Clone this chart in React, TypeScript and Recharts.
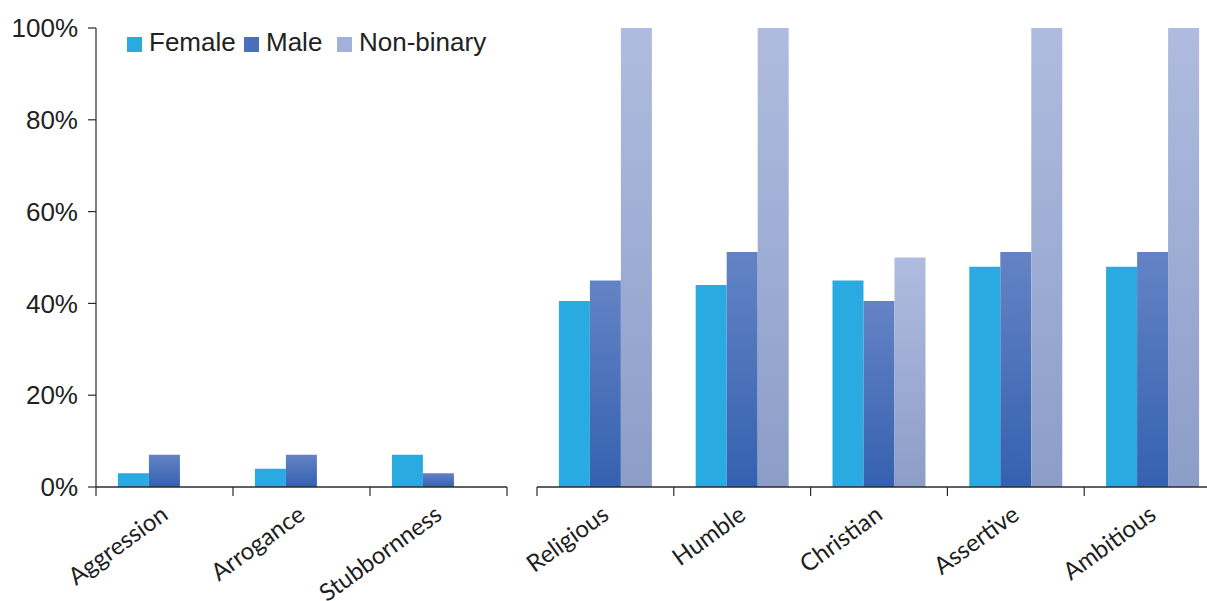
import React from 'react';
import { Bar, BarChart, XAxis, YAxis } from 'recharts';

const leftCategories = ['Aggression', 'Arrogance', 'Stubbornness'];
const leftFemale = [3, 4, 7];
const leftMale = [7, 7, 3];
const leftNonBinary = [0, 0, 0];

const rightCategories = ['Religious', 'Humble', 'Christian', 'Assertive', 'Ambitious'];
const rightFemale = [40.5, 44, 45, 48, 48];
const rightMale = [45, 51.2, 40.5, 51.2, 51.2];
const rightNonBinary = [100, 100, 50, 100, 100];

const yTicks = [0, 20, 40, 60, 80, 100];

const seriesNames = ['Female', 'Male', 'Non-binary'];

const leftData = leftCategories.map((name, i) => ({
  name,
  female: leftFemale[i],
  male: leftMale[i],
  nonBinary: leftNonBinary[i],
}));

const rightData = rightCategories.map((name, i) => ({
  name,
  female: rightFemale[i],
  male: rightMale[i],
  nonBinary: rightNonBinary[i],
}));

const AXIS = '#2b2b2b';
const LABEL_FONT = 'Lato, "Open Sans", sans-serif';
const NUM_FONT = '"Liberation Sans", Arial, sans-serif';

// category ticks sit on the band edges, labels are slanted under the band centre
function makeTick(band: number, count: number) {
  return function CategoryTick(props: any) {
    const { x, y, payload } = props;
    const ax = x + 5;
    const ay = y + 23;
    return (
      <g>
        <line x1={x - band / 2} x2={x - band / 2} y1={y - 8} y2={y + 1} stroke={AXIS} strokeWidth={1.2} />
        {payload.index === count - 1 && (
          <line x1={x + band / 2} x2={x + band / 2} y1={y - 8} y2={y + 1} stroke={AXIS} strokeWidth={1.2} />
        )}
        <text
          x={ax}
          y={ay}
          textAnchor="end"
          transform={`rotate(-36, ${ax}, ${ay})`}
          fontSize={24}
          fontFamily={LABEL_FONT}
          fill="#1e1e1e"
        >
          {payload.value}
        </text>
      </g>
    );
  };
}

function Gradients() {
  return (
    <defs>
      <linearGradient id="maleGrad" x1="0" y1="0" x2="0" y2="1">
        <stop offset="0%" stopColor="#6483c5" />
        <stop offset="100%" stopColor="#3461af" />
      </linearGradient>
      <linearGradient id="nbGrad" x1="0" y1="0" x2="0" y2="1">
        <stop offset="0%" stopColor="#afbcdf" />
        <stop offset="100%" stopColor="#8c9dc8" />
      </linearGradient>
    </defs>
  );
}

const legendColors = ['#29abe2', '#4a6fbb', '#a3b1d9'];
const legendLeft = [127, 244, 337];

function ChartLegend() {
  return (
    <div style={{ position: 'absolute', left: 0, top: 0, fontFamily: NUM_FONT, fontSize: 26, color: '#222', lineHeight: '30px' }}>
      {seriesNames.map((n, i) => (
        <div key={n} style={{ position: 'absolute', left: legendLeft[i], top: 27, whiteSpace: 'nowrap' }}>
          <span style={{ position: 'absolute', left: 0, top: 10, width: 15, height: 15, background: legendColors[i] }} />
          <span style={{ marginLeft: 22 }}>{n}</span>
        </div>
      ))}
    </div>
  );
}

export default function App() {
  const leftBand = (507 - 96) / leftCategories.length;
  const rightBand = (1221 - 537) / rightCategories.length;
  return (
    <div style={{ position: 'fixed', left: 0, top: 0, width: 1207, height: 601, overflow: 'hidden', background: '#fff' }}>
      <div style={{ position: 'absolute', left: 0, top: 0 }}>
        <BarChart width={520} height={601} data={leftData} margin={{ top: 28, right: 13, left: 0, bottom: 0 }} barCategoryGap="16%" barGap={0}>
          <Gradients />
          <YAxis
            width={96}
            domain={[0, 100]}
            ticks={yTicks}
            tickFormatter={(v) => `${v}%`}
            tick={{ fontSize: 26, fill: '#222', fontFamily: NUM_FONT }}
            axisLine={{ stroke: AXIS, strokeWidth: 1.2 }}
            tickLine={{ stroke: AXIS, strokeWidth: 1.2 }}
            tickSize={8}
            tickMargin={10}
          />
          <XAxis
            dataKey="name"
            height={114}
            interval={0}
            tickLine={false}
            axisLine={{ stroke: AXIS, strokeWidth: 1.5 }}
            tick={makeTick(leftBand, leftCategories.length)}
          />
          <Bar dataKey="female" name="Female" fill="#29abe2" isAnimationActive={false} />
          <Bar dataKey="male" name="Male" fill="url(#maleGrad)" isAnimationActive={false} />
          <Bar dataKey="nonBinary" name="Non-binary" fill="url(#nbGrad)" isAnimationActive={false} />
        </BarChart>
      </div>
      <div style={{ position: 'absolute', left: 437, top: 0 }}>
        <BarChart width={784} height={601} data={rightData} margin={{ top: 28, right: 0, left: 100, bottom: 0 }} barCategoryGap="16%" barGap={0}>
          <Gradients />
          <YAxis hide domain={[0, 100]} ticks={yTicks} />
          <XAxis
            dataKey="name"
            height={114}
            interval={0}
            tickLine={false}
            axisLine={{ stroke: AXIS, strokeWidth: 1.5 }}
            tick={makeTick(rightBand, rightCategories.length)}
          />
          <Bar dataKey="female" fill="#29abe2" isAnimationActive={false} />
          <Bar dataKey="male" fill="url(#maleGrad)" isAnimationActive={false} />
          <Bar dataKey="nonBinary" fill="url(#nbGrad)" isAnimationActive={false} />
        </BarChart>
      </div>
      <ChartLegend />
    </div>
  );
}
